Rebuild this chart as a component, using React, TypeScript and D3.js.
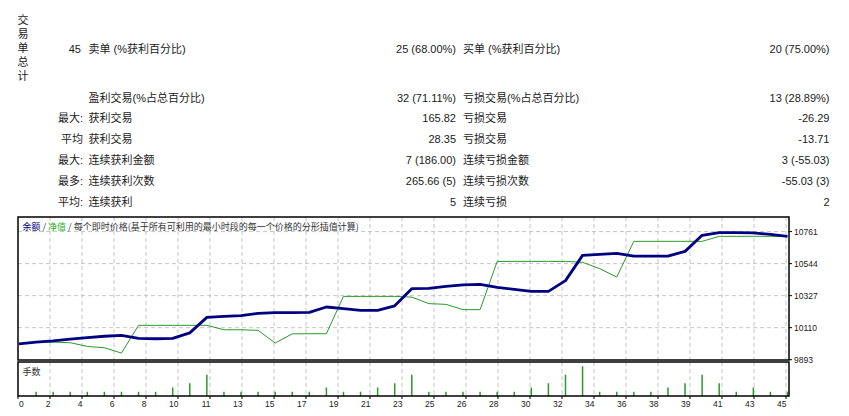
import React from "react";
import * as d3 from "d3";

const W = 849;
const H = 416;

// ---- Summary table data ----
const verticalTitle = "交易单总计";
const totalTrades = "45";
const row1 = ["卖单 (%获利百分比)", "25 (68.00%)", "买单 (%获利百分比)", "20 (75.00%)"];
const row2 = ["盈利交易(%占总百分比)", "32 (71.11%)", "亏损交易(%占总百分比)", "13 (28.89%)"];
const prefixLabels = ["最大:", "平均", "最大:", "最多:", "平均:"];
const winLabels = ["获利交易", "获利交易", "连续获利金额", "连续获利次数", "连续获利"];
const winValues = ["165.82", "28.35", "7 (186.00)", "265.66 (5)", "5"];
const lossLabels = ["亏损交易", "亏损交易", "连续亏损金额", "连续亏损次数", "连续亏损"];
const lossValues = ["-26.29", "-13.71", "3 (-55.03)", "-55.03 (3)", "2"];

// ---- Chart data ----
const balance = [
  10000, 10012, 10020, 10032, 10042, 10052, 10058, 10037, 10035, 10037,
  10075, 10180, 10187, 10191, 10207, 10212, 10212, 10214, 10250, 10239,
  10227, 10227, 10258, 10374, 10376, 10390, 10400, 10404, 10383, 10370,
  10356, 10356, 10429, 10600, 10607, 10614, 10595, 10595, 10595, 10627,
  10736, 10754, 10754, 10753, 10742, 10729,
];
const equity = [
  10000, 10010, 10012, 10008, 9983, 9974, 9938, 10126, 10126, 10126,
  10126, 10126, 10096, 10096, 10092, 10006, 10068, 10069, 10069, 10322,
  10322, 10322, 10322, 10317, 10273, 10268, 10232, 10232, 10559, 10559,
  10559, 10559, 10559, 10553, 10510, 10453, 10695, 10695, 10695, 10695,
  10695, 10729, 10729, 10729, 10729, 10729,
];
// lots for trades 1..45
const lots = [
  0.01, 0.01, 0.01, 0.01, 0.01, 0.01, 0.01, 0.01, 0.02, 0.03,
  0.05, 0.01, 0.01, 0.01, 0.01, 0.01, 0.01, 0.02, 0.01, 0.01,
  0.02, 0.03, 0.05, 0.01, 0.01, 0.01, 0.01, 0.01, 0.01, 0.02,
  0.03, 0.05, 0.07, 0.01, 0.01, 0.01, 0.01, 0.02, 0.03, 0.05,
  0.03, 0.01, 0.02, 0.01, 0.01,
];
const yTicks = [9893, 10110, 10327, 10544, 10761];
const xTickLabels = [
  "0", "2", "4", "6", "8", "10", "11", "13", "15", "17", "19", "21", "23",
  "25", "26", "28", "30", "32", "34", "36", "38", "39", "41", "43", "45",
];

const FONT = "'Liberation Sans', Arial, 'Noto Sans CJK SC', sans-serif";
const CJK = "'Noto Sans CJK SC', 'Liberation Sans', sans-serif";
const TEXT = "#1a1a1a";
const GREEN = "#2a9a2a";
const NAVY = "#000080";
const GRID = "#c4c4c4";

export default function App() {
  const left = 18;
  const right = 789;
  const top = 217;
  const mainBottom = 360;
  const volTop = 362;
  const volBottom = 396;

  const x = d3.scaleLinear().domain([0, balance.length - 1]).range([19, 787.5]);
  const y = d3.scaleLinear().domain([9893, 10761]).range([359.7, 231.6]);
  const vy = d3.scaleLinear().domain([0, 0.08]).range([volBottom, volTop]);
  const gx = d3.scaleLinear().domain([0, xTickLabels.length - 1]).range([18, 786]);

  const line = d3
    .line<number>()
    .x((_, i) => x(i))
    .y((d) => y(d));

  const rowYs1 = [49, 97.7];
  const rowYs2 = [118.3, 139.3, 160.3, 181.3, 202.3];

  return (
    <svg
      width={W}
      height={H}
      style={{ position: "absolute", left: 0, top: 0, background: "#fff" }}
      fontFamily={FONT}
    >
      <rect x={0} y={0} width={W} height={H} fill="#fff" />
      {/* vertical title */}
      <text x={23} y={14} fontSize={11} fontFamily={CJK} fill={TEXT}
        style={{ writingMode: "vertical-rl", letterSpacing: "3px" }}>{verticalTitle}</text>
      <text x={81} y={rowYs1[0]} fontSize={11} fill={TEXT} textAnchor="end" dominantBaseline="central">{totalTrades}</text>
      {[row1, row2].map((r, i) => (
        <g key={"r" + i} fontSize={11} fill={TEXT} dominantBaseline="central">
          <text x={88.5} y={rowYs1[i]}>{r[0]}</text>
          <text x={456} y={rowYs1[i]} textAnchor="end">{r[1]}</text>
          <text x={463} y={rowYs1[i]}>{r[2]}</text>
          <text x={829.5} y={rowYs1[i]} textAnchor="end">{r[3]}</text>
        </g>
      ))}
      {prefixLabels.map((p, i) => (
        <g key={"s" + i} fontSize={11} fill={TEXT} dominantBaseline="central">
          <text x={83} y={rowYs2[i]} textAnchor="end">{p}</text>
          <text x={88.5} y={rowYs2[i]}>{winLabels[i]}</text>
          <text x={456} y={rowYs2[i]} textAnchor="end">{winValues[i]}</text>
          <text x={463} y={rowYs2[i]}>{lossLabels[i]}</text>
          <text x={829.5} y={rowYs2[i]} textAnchor="end">{lossValues[i]}</text>
        </g>
      ))}

      {/* grid */}
      {xTickLabels.map((_, i) =>
        i === 0 ? null : (
          <g key={"gx" + i}>
            <line x1={gx(i)} x2={gx(i)} y1={top} y2={mainBottom} stroke={GRID} strokeDasharray="4,3" />
            <line x1={gx(i)} x2={gx(i)} y1={volTop} y2={volBottom} stroke={GRID} strokeDasharray="4,3" />
          </g>
        )
      )}
      {yTicks.slice(1).map((t) => (
        <line key={"gy" + t} x1={left} x2={right} y1={y(t)} y2={y(t)} stroke={GRID} strokeDasharray="4,3" />
      ))}

      {/* header legend */}
      <text x={22.5} y={225.7} fontSize={9} fontFamily={CJK} dominantBaseline="central" fill="#333">
        <tspan fill={NAVY}>余额</tspan>
        <tspan> / </tspan>
        <tspan fill="#22b022">净值</tspan>
        <tspan> / 每个即时价格(基于所有可利用的最小时段的每一个价格的分形插值计算)</tspan>
      </text>

      {/* lines */}
      <path d={line(equity) || ""} fill="none" stroke={GREEN} strokeWidth={1} />
      <path d={line(balance) || ""} fill="none" stroke={NAVY} strokeWidth={2.8} strokeLinejoin="round" />

      {/* volume bars */}
      <text x={22.5} y={371.5} fontSize={9} fontFamily={CJK} dominantBaseline="central" fill="#333">手数</text>
      {lots.map((v, i) => (
        <line key={"v" + i} x1={x(i + 1)} x2={x(i + 1)} y1={vy(0)} y2={vy(v)} stroke={GREEN} strokeWidth={1.5} />
      ))}

      {/* frames */}
      <rect x={left} y={top} width={right - left} height={mainBottom - top} fill="none" stroke="#000" strokeWidth={1.5} />
      <rect x={left} y={volTop} width={right - left} height={volBottom - volTop} fill="none" stroke="#000" strokeWidth={1.5} />

      {/* y axis */}
      {yTicks.map((t) => (
        <g key={"yt" + t}>
          <line x1={right} x2={right + 3} y1={y(t)} y2={y(t)} stroke="#000" />
          <text x={794} y={y(t)} fontSize={8.5} fill={TEXT} dominantBaseline="central">{t}</text>
        </g>
      ))}

      {/* x axis */}
      {xTickLabels.map((l, i) => (
        <g key={"xt" + i}>
          <line x1={gx(i)} x2={gx(i)} y1={volBottom} y2={volBottom + 3} stroke="#000" />
          <text x={i === 0 ? gx(i) + 1 : gx(i) + 0.5} y={404} fontSize={8.5} fill={TEXT}
            textAnchor={i === 0 ? "start" : "end"} dominantBaseline="central">{l}</text>
        </g>
      ))}
    </svg>
  );
}
